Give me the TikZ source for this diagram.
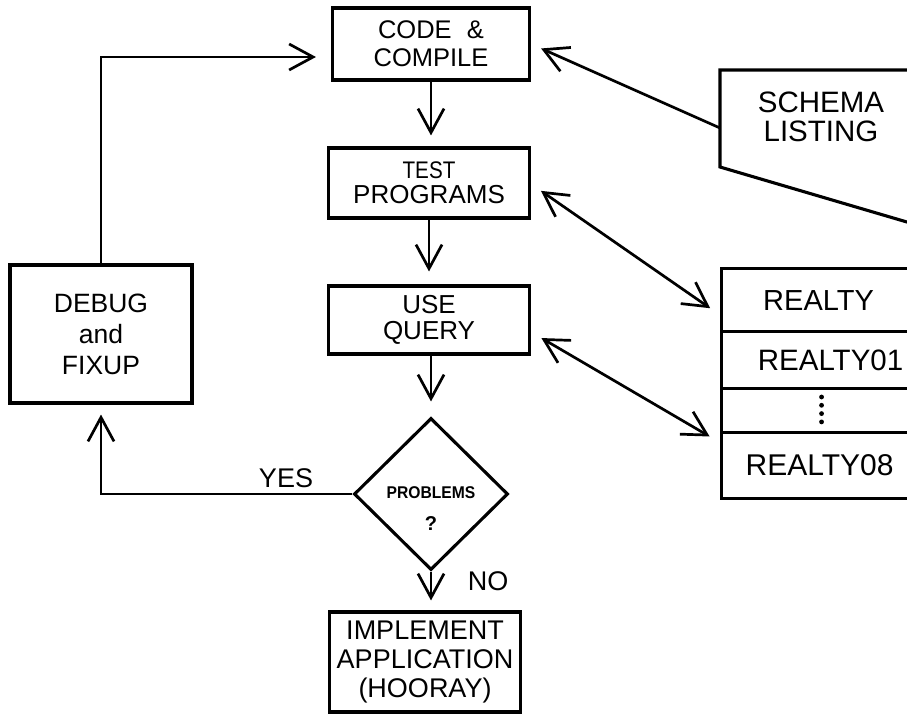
\documentclass[tikz,border=0pt]{standalone}
\usepackage{fontspec}
\setmainfont{Liberation Sans}
\usetikzlibrary{arrows.meta,shapes.geometric}
\newcommand{\fsz}[2]{\fontsize{#1}{#2}\selectfont}

\begin{document}
\begin{tikzpicture}[x=1pt,y=-1pt,
  vbarb/.tip={Straight Barb[length=24pt,width=26pt]},
  box/.style={draw,line width=3.1pt,inner sep=0pt,align=center},
  conn/.style={line width=2.7pt,-vbarb},
  both/.style={line width=2.7pt,vbarb-vbarb},
  txt/.style={inner sep=0pt,align=center}]
\useasboundingbox (0,0) rectangle (907,714);
\clip (0,0) rectangle (907,714);

% process boxes of the main column
\node[box,minimum width=197pt,minimum height=72pt,font=\fsz{25.5}{28}] (code) at (431,44)
  {CODE\hspace{0.6em}\&\\COMPILE};
\node[box,minimum width=201pt,minimum height=70pt,font=\fsz{26}{25}] (test) at (429,183)
  {\fsz{24}{25}\scalebox{0.86}[1]{TEST}\\\fsz{26}{25}PROGRAMS};
\node[box,minimum width=201pt,minimum height=68pt,font=\fsz{26}{26}] (use) at (429,320)
  {USE\\QUERY};
\node[draw,shape=diamond,line width=3.1pt,inner sep=0pt,
      minimum width=154pt,minimum height=152pt] (prob) at (431,494) {};
\node[txt,font=\bfseries\fsz{17}{32}] (probtext) at (431,509) {\scalebox{0.92}[1]{PROBLEMS}\\\fsz{20}{32}?};
\node[box,minimum width=191pt,minimum height=100pt,font=\fsz{27}{29}] (impl) at (425,662)
  {IMPLEMENT\\APPLICATION\\(HOORAY)};

% debug loop on the left
\node[box,minimum width=182pt,minimum height=138pt,font=\fsz{26.5}{31}] (debug) at (101,334)
  {DEBUG\\and\\FIXUP};

% schema listing sheet
\draw[line width=3.1pt] (912,70) -- (720,70) -- (720,167) -- (912,223.5);
\node[txt,font=\fsz{29.5}{29}] (schema) at (821,117) {SCHEMA\\LISTING};
\coordinate (schemaport) at (720,128);

% database file stack
\node[box,anchor=north west,minimum width=194pt,minimum height=63pt,font=\fsz{29}{30}] (r1) at (720,267) {REALTY};
\node[box,anchor=north west,minimum width=218pt,minimum height=57pt,font=\fsz{29.5}{30}] (r01) at (720,330) {REALTY01};
\node[box,anchor=north west,minimum width=200pt,minimum height=44pt] (rdots) at (720,387) {};
\node[box,anchor=north west,minimum width=196pt,minimum height=66pt,font=\fsz{30}{30}] (r08) at (720,431) {REALTY08};
% vertical ellipsis in the elided row
\foreach \k in {0,1,2,3}
  \fill ([yshift=-10pt-8.3pt*\k]rdots.north) circle (2.4pt);

% flow connectors
\coordinate (looptop) at (0,57);
\draw[conn,shorten >=11pt] (code.south) -- (code.south |- test.north);
\draw[conn,shorten >=13pt] (test.south) -- (use.north);
\draw[conn,shorten >=15pt] (use.south -| prob) -- (prob.north);
\draw[conn,shorten >=10pt] (prob.south) -- (prob.south |- impl.north);
\draw[conn,shorten >=15pt] (debug.north) |- (code.west |- looptop);
\draw[conn,shorten >=10pt] (prob.west) -| (debug.south);
\draw[conn,shorten >=11pt] (schemaport) -- (code.east);
\draw[both,shorten <=12pt,shorten >=12pt] ([yshift=-1pt]test.east) -- ([yshift=-15pt]r1.west);
\draw[both,shorten <=12pt,shorten >=12pt] ([yshift=-12pt]use.east) -- ([yshift=23pt]r08.west);

% branch labels
\node[txt,font=\fsz{27}{27}] (yes) at (286,478) {YES};
\node[txt,font=\fsz{27}{27}] (no) at (488,581) {NO};
\end{tikzpicture}
\end{document}
